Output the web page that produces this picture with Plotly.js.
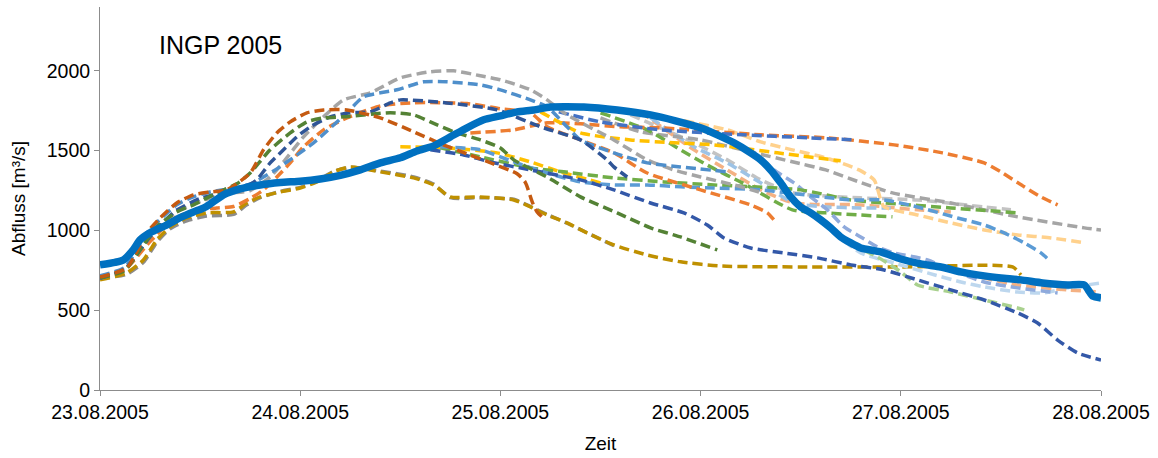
<!DOCTYPE html>
<html>
<head>
<meta charset="utf-8">
<script src="https://cdn.plot.ly/plotly-3.0.1.min.js"></script>
<style>
  html, body { margin: 0; padding: 0; background: #ffffff; }
  #chart { width: 1158px; height: 458px; }
</style>
</head>
<body>
<div id="chart"></div>
<script>
// Time is given in hours after 23.08.2005 00:00, discharge in m³/s.

// Observed discharge
const obsHours = [0,1.8,2.8,4,4.8,6,8,9.6,11.2,12.4,13.2,14.8,16.8,19.2,21.6,24,26.4,28.8,31.2,33.6,36,38,40,42,44,46,48,50,52,54,58,62,66,69,72,74,76,78,79.2,80.4,81.6,82.8,84,85.2,86.4,87.6,88.8,90,91.2,93.6,96,98.4,100.8,103.2,106,108,110.4,113,116,118,119,120];
const obsFlow  = [784,800,815,880,940,985,1034,1080,1116,1140,1165,1223,1260,1285,1300,1308,1322,1345,1379,1423,1455,1498,1530,1586,1643,1693,1718,1743,1755,1774,1774,1755,1724,1687,1643,1599,1549,1486,1442,1379,1298,1210,1147,1110,1066,1016,959,922,890,865,821,790,771,740,715,702,690,671,658,658,589,577];

// Forecast runs issued on 23.08.
const darkGoldHours = [0,3.2,5.2,6.8,8.4,10.4,12.8,16,17.6,19.2,21.6,24,26,28,30,33.6,37.6,40,42,45.6,49.6,51.6,53.6,56,58.4,61.6,65.6,69.6,74.4,84,96,109.4,110.4];
const darkGoldFlow  = [690,734,815,940,1022,1078,1110,1116,1172,1210,1241,1266,1304,1367,1398,1367,1329,1285,1210,1210,1191,1147,1097,1047,984,909,846,803,777,771,771,771,721];

const midGrayHours = [0,3.2,5.2,6.8,8.4,10.4,12.8,16,17.6,19.2,21.6,24,26,28,30,33.6,37.6,40,42,45.6,49.6,51.6,53.6,56,58.4,61.6];
const midGrayFlow  = [700,725,800,925,1010,1060,1090,1100,1160,1205,1245,1270,1310,1370,1395,1372,1335,1290,1205,1205,1195,1150,1100,1045,985,905];

const brownHours = [0,3.2,5.6,7.2,9.2,11.2,13.2,15.2,18,19.6,21.2,22.8,24.8,26.8,29.6,33.6,37.6,41,44,47,50,51,51.8,52.4,53];
const brownFlow  = [708,765,984,1078,1172,1223,1241,1254,1360,1505,1611,1680,1737,1755,1755,1705,1618,1540,1480,1420,1355,1300,1180,1116,1085];

const darkGreenHours = [0,3,4.8,6.8,9.2,11.2,14,16.4,18,20.4,22.8,24.8,26.8,29.2,34.8,37.6,39.6,42.4,45.6,48,49.6,53.6,57.6,62,66,69.6,74];
const darkGreenFlow  = [702,750,878,1022,1116,1160,1235,1292,1360,1505,1611,1680,1705,1712,1737,1724,1680,1618,1567,1517,1442,1335,1210,1110,1016,959,878];

const navyHours = [0,3,6,9,12,15,18,18.8,20.4,22,23.6,25.2,27.6,30,32.4,34.8,36,41.6,47.6,52.8,57.6,60.8,61.6,63.2];
const navyFlow  = [700,760,960,1120,1200,1240,1290,1317,1423,1505,1586,1649,1712,1737,1743,1799,1818,1799,1755,1649,1567,1442,1398,1335];

const steelBlueHours = [0,3,5.6,9.2,11.2,13.2,16,18,21,25.6,29.6,31.6,35.6,38.8,41.6,45.6,48,51.6,53.6,56,57.6,61.6,65.6,69.6,75.2];
const steelBlueFlow  = [715,770,984,1160,1210,1241,1265,1290,1379,1549,1737,1837,1881,1931,1931,1912,1881,1818,1774,1649,1567,1486,1423,1398,1367];

const grayHighHours = [0,3,6,9,12,15,18,20.4,22,24.4,26.8,29.2,32.4,36,39.6,42.4,45.6,48,51.6,53.6,56,61.6,65.6,68.8,72,76,79];
const grayHighFlow  = [700,760,960,1110,1180,1230,1250,1335,1430,1586,1712,1818,1862,1956,1994,2000,1969,1944,1881,1818,1724,1567,1442,1379,1335,1285,1241];

const orangeEarlyHours = [0,3,6,9,12,14,16,18,19.6,21.2,22.8,24.4,26.8,29.6,33.6,37.6,44,48,51.6,53.6,57.6,61.6,65.6,72,78,80,81];
const orangeEarlyFlow  = [700,755,930,1080,1130,1140,1150,1200,1254,1335,1423,1524,1630,1705,1780,1800,1795,1762,1737,1649,1567,1486,1360,1254,1160,1110,1053];

// Forecast runs issued on 24.08. and later
const navyLateHours = [39.6,43.6,46.8,51.6,57.6,61.6,66,70,72.8,74.8,78,82,86,90,94,98,102,106,110,112.4,114.8,117.2,120];
const navyLateFlow  = [1505,1473,1429,1379,1317,1254,1172,1110,1034,953,890,859,828,784,752,690,627,564,483,420,313,232,188];

const skyBlueHours = [40.8,45.6,49.6,53.6,57.6,61.6,65.6,69.6,73.6,79.2,90,94,98,102.8,106,108.4,110.8,112.8,114];
const skyBlueFlow  = [1524,1505,1429,1360,1304,1285,1285,1273,1266,1254,1191,1191,1147,1078,1034,984,922,859,803];

const greenHours = [40.8,45.6,51.6,55.6,61.6,67.6,73.6,84,90,94,102,110];
const greenFlow  = [1517,1461,1392,1367,1329,1304,1285,1254,1191,1172,1141,1110];

const goldLowHours = [36,41.6,47.6,51.6,55.2,60];
const goldLowFlow  = [1524,1517,1486,1429,1367,1298];

const orangeLateHours = [44.4,49.6,53.6,57.6,62.4,67.2,79.2,87.2,95.2,101,106,108,110.8,112.8,114.8];
const orangeLateFlow  = [1611,1630,1674,1668,1649,1643,1599,1580,1536,1486,1423,1367,1273,1210,1160];

const goldHighHours = [52.8,55,57.6,63.6,68.8,73.6,81.2,88.8];
const goldHighFlow  = [1743,1680,1611,1567,1549,1536,1486,1436];

const blueHours = [55,60,67.2,77,85,90.6];
const blueFlow  = [1743,1680,1630,1599,1580,1567];

const grayLateHours = [60,64.8,72,78,83,87,91,95,102,110,118,120];
const grayLateFlow  = [1705,1618,1567,1492,1430,1379,1304,1235,1172,1085,1016,1003];

const lightGreenHours = [60,65.6,69.6,73.2,77,83,87,95];
const lightGreenFlow  = [1737,1630,1505,1398,1298,1129,1110,1085];

const silverHours = [63.6,71.2,75.2,79.2,83.2,91.2,98,106,109.2];
const silverFlow  = [1724,1549,1442,1317,1235,1204,1191,1147,1129];

const salmonHours = [64.8,71.2,75.2,79.2,83.2,91.2,98,102];
const salmonFlow  = [1743,1505,1379,1254,1172,1160,1129,1116];

const paleBlueHours = [66,71.2,75.2,79.2,83.2,87.2,91.2,94.8];
const paleBlueFlow  = [1705,1524,1423,1298,1172,1147,1141,1141];

const peachHours = [70,75.2,79.2,83,87,91,92.8,93.6,94,98,102,106,110,114,118];
const peachFlow  = [1687,1630,1555,1505,1455,1379,1317,1191,1147,1097,1047,1003,972,953,922];

const lavenderHours = [78,80.8,83.2,85.2,87.2,89.2,91.2,93.2,95.2,99.2,102,106,110,114,114.8];
const lavenderFlow  = [1505,1379,1298,1210,1129,1022,959,897,859,815,752,677,640,614,608];

const iceBlueHours = [86.4,91.2,95.2,99.2,103.2,106,110,113,116,120];
const iceBlueFlow  = [1053,859,796,734,677,646,614,608,640,671];

const sageHours = [90,93.2,96,98,102,106,110,110.8];
const sageFlow  = [909,834,740,658,614,564,514,502];

const salmonEndHours = [104,110,116,120];
const salmonEndFlow  = [727,658,627,614];

// Day ticks on the time axis
const dayTicks = ['2005-08-23','2005-08-24','2005-08-25','2005-08-26','2005-08-27','2005-08-28'];
const dayLabels = ['23.08.2005','24.08.2005','25.08.2005','26.08.2005','27.08.2005','28.08.2005'];
const flowTicks = [0, 500, 1000, 1500, 2000];

const START = Date.UTC(2005, 7, 23, 0, 0, 0);
function toStamp(h) {
  const d = new Date(START + h * 3600000);
  return d.toISOString().slice(0, 19).replace('T', ' ');
}

// Drawing order: pale late runs at the back, early runs on top
const runs = [
  [midGrayHours, midGrayFlow, '#8C8C8C'],
  [darkGoldHours, darkGoldFlow, '#BF9000'],
  [silverHours, silverFlow, '#C3C3C3'],
  [salmonHours, salmonFlow, '#F4B183'],
  [paleBlueHours, paleBlueFlow, '#9DC3E6'],
  [grayLateHours, grayLateFlow, '#A5A5A5'],
  [lightGreenHours, lightGreenFlow, '#70AD47'],
  [peachHours, peachFlow, '#FFD18C'],
  [iceBlueHours, iceBlueFlow, '#BDD7EE'],
  [salmonEndHours, salmonEndFlow, '#F4B183'],
  [sageHours, sageFlow, '#A9D18E'],
  [lavenderHours, lavenderFlow, '#8FAADC'],
  [orangeLateHours, orangeLateFlow, '#ED7D31'],
  [blueHours, blueFlow, '#4472C4'],
  [goldHighHours, goldHighFlow, '#FFC000'],
  [goldLowHours, goldLowFlow, '#FFC000'],
  [greenHours, greenFlow, '#70AD47'],
  [skyBlueHours, skyBlueFlow, '#5B9BD5'],
  [navyLateHours, navyLateFlow, '#3358A8'],
  [orangeEarlyHours, orangeEarlyFlow, '#ED7D31'],
  [grayHighHours, grayHighFlow, '#A5A5A5'],
  [steelBlueHours, steelBlueFlow, '#4F8FCB'],
  [navyHours, navyFlow, '#2F5597'],
  [darkGreenHours, darkGreenFlow, '#548235'],
  [brownHours, brownFlow, '#C55A11']
];

const traces = runs.map(([hours, flow, color]) => ({
  type: 'scatter',
  mode: 'lines',
  x: hours.map(toStamp),
  y: flow,
  line: { color: color, width: 3.5, dash: '10px,5px', shape: 'spline', smoothing: 0.6 },
  hoverinfo: 'skip',
  showlegend: false
}));

traces.push({
  type: 'scatter',
  mode: 'lines',
  x: obsHours.map(toStamp),
  y: obsFlow,
  line: { color: '#0070C0', width: 7.5, shape: 'spline', smoothing: 0.5 },
  showlegend: false
});

const axisGray = '#8C8C8C';
const fontFamily = '"Liberation Sans", Arial, sans-serif';

const layout = {
  width: 1158,
  height: 458,
  margin: { l: 100, r: 57, t: 7, b: 68, pad: 0 },
  paper_bgcolor: '#ffffff',
  plot_bgcolor: '#ffffff',
  font: { family: fontFamily, color: '#000000' },
  showlegend: false,
  xaxis: {
    type: 'date',
    range: [dayTicks[0], dayTicks[dayTicks.length - 1]],
    tickmode: 'array',
    tickvals: dayTicks,
    ticktext: dayLabels,
    ticks: 'outside',
    ticklen: 5,
    tickcolor: axisGray,
    showline: true,
    linecolor: axisGray,
    linewidth: 1,
    showgrid: false,
    zeroline: false,
    tickfont: { size: 19.5, family: fontFamily, color: '#000000' },
    title: { text: 'Zeit', font: { size: 19, family: fontFamily, color: '#000000' }, standoff: 14 },
    automargin: false
  },
  yaxis: {
    range: [0, 2400],
    tickmode: 'array',
    tickvals: flowTicks,
    ticktext: flowTicks.map(String),
    ticks: 'outside',
    ticklen: 5,
    tickcolor: axisGray,
    showline: true,
    linecolor: axisGray,
    linewidth: 1,
    showgrid: false,
    zeroline: false,
    tickfont: { size: 19.5, family: fontFamily, color: '#000000' },
    title: { text: 'Abfluss [m³/s]', font: { size: 19, family: fontFamily, color: '#000000' }, standoff: 16 },
    automargin: false
  },
  annotations: [{
    text: 'INGP 2005',
    xref: 'paper', yref: 'paper',
    x: 0.057, y: 0.901,
    xanchor: 'left', yanchor: 'middle',
    showarrow: false,
    font: { size: 25, family: fontFamily, color: '#000000' }
  }]
};

Plotly.newPlot('chart', traces, layout, { displayModeBar: false, staticPlot: true });
</script>
</body>
</html>
